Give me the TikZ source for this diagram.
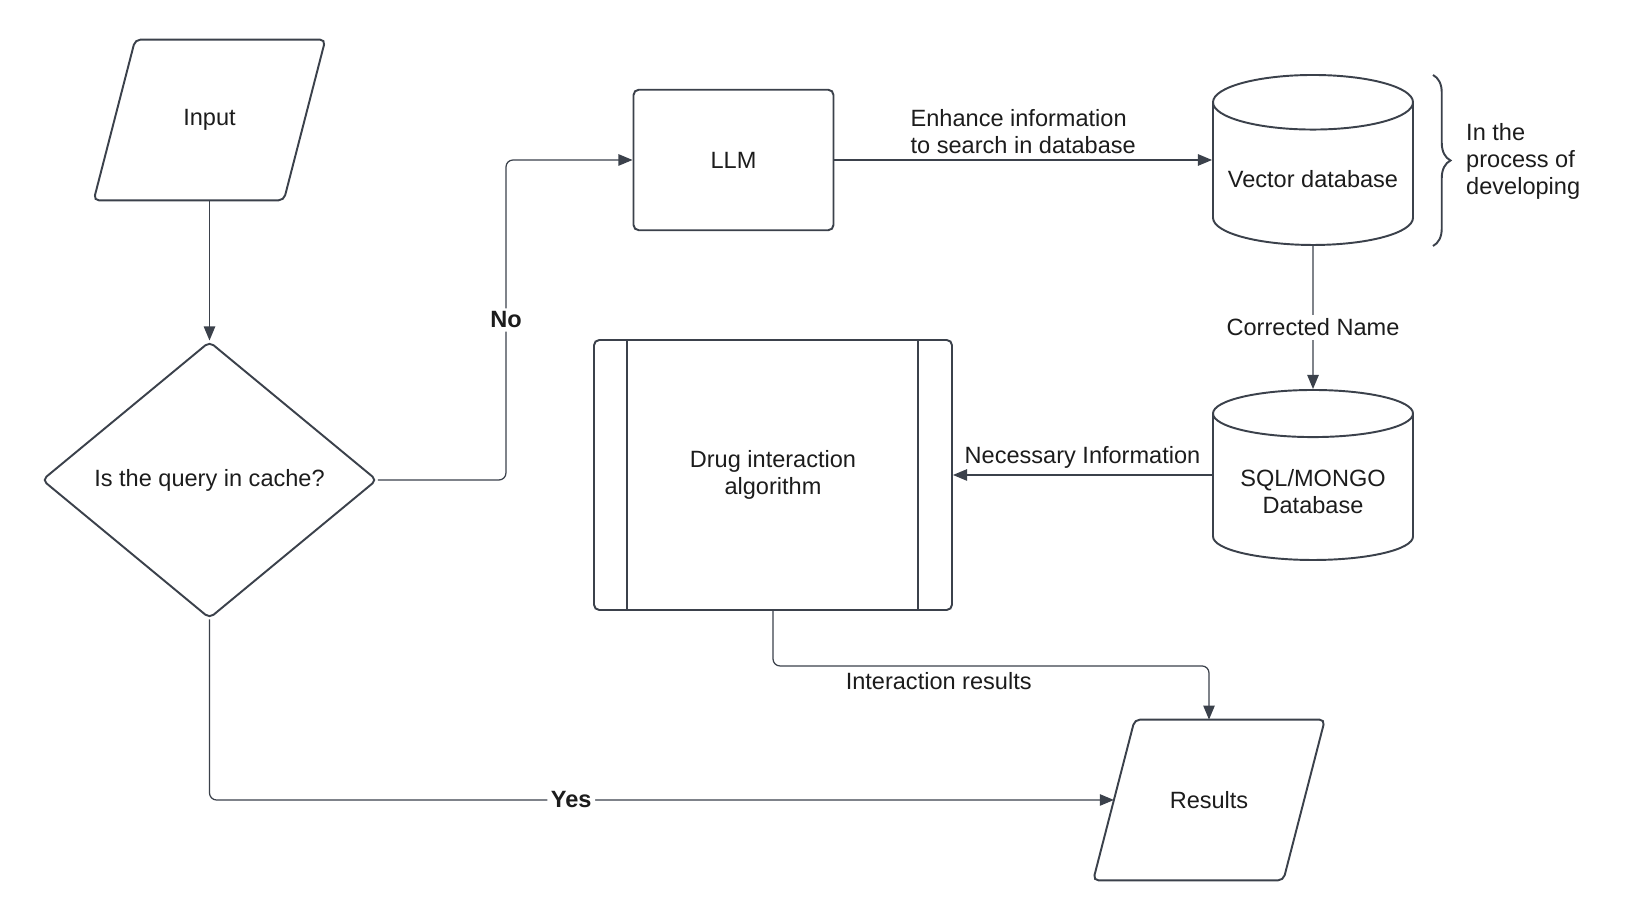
\documentclass[tikz,border=0pt]{standalone}
\usepackage{fontspec}
\setmainfont{Liberation Sans}
\usetikzlibrary{shapes.geometric,decorations.pathreplacing,arrows.meta}

\definecolor{lineclr}{HTML}{3B414B}
\definecolor{txtclr}{HTML}{1C1C1C}
\newcommand{\figfont}{\fontsize{13.4}{15.5}\selectfont}
% slanted outline round a plain io node
\newcommand{\ioshape}[1]{\draw[lineclr, line width=1.1pt, rounded corners=3pt] ([xshift=0.415cm]#1.north west) -- ([xshift=0.415cm]#1.north east) -- ([xshift=-0.415cm]#1.south east) -- ([xshift=-0.415cm]#1.south west) -- cycle;}

\tikzstyle{every node}=[text=txtclr, font=\figfont]
\tikzstyle{box}=[draw=lineclr, line width=1.1pt, rounded corners=3pt, align=center]
\tikzstyle{iobox}=[align=center, minimum width=3.79cm, minimum height=3.2cm]
\tikzstyle{dbbox}=[draw=lineclr, line width=1.1pt, cylinder, shape border rotate=90, aspect=0.3, minimum width=4cm, minimum height=3.4cm, align=center, anchor=shape center]
\tikzstyle{link}=[draw=lineclr, line width=0.7pt]
\tikzstyle{lbl}=[fill=white, inner sep=2pt]

\begin{document}
\begin{tikzpicture}[>={Triangle[length=8pt,width=6.5pt]}]
\useasboundingbox (0,0) rectangle (32.68,18.4);

\node[iobox] (inp) at (4.19,16) {Input};
\node[box, diamond, minimum width=6.7cm, minimum height=5.54cm] (dia) at (4.19,8.8) {Is the query in cache?};
\node[box, minimum width=4cm, minimum height=2.81cm] (llm) at (14.67,15.2) {LLM};
\node[dbbox] (vdb) at (26.26,15.2) {Vector database};
\node[dbbox] (sql) at (26.26,8.9) {SQL/MONGO\\Database};
\node[box, minimum width=7.16cm, minimum height=5.4cm] (alg) at (15.46,8.9) {Drug interaction\\algorithm};
\node[iobox] (res) at (24.18,2.4) {Results};

\ioshape{inp}
\ioshape{res}
\draw[lineclr, line width=1.1pt] ([xshift=0.68cm]alg.north west) -- ([xshift=0.68cm]alg.south west);
\draw[lineclr, line width=1.1pt] ([xshift=-0.7cm]alg.north east) -- ([xshift=-0.7cm]alg.south east);

\draw[link,->] (inp) -- (dia);
\draw[link,->,rounded corners=4pt] (dia.east) -- ++(2.56,0) |- (llm.west) node[lbl, pos=0.25, font=\figfont\bfseries] {No};
\draw[link,->,rounded corners=4pt] (dia.south) |- (res) node[lbl, pos=0.70, font=\figfont\bfseries] {Yes};
\draw[link,->] (llm.east) -- (llm.east -| vdb.west) node[midway, above, align=left] {Enhance information\\to search in database};
\draw[link,->] (vdb.south) -- (sql.north) node[lbl, pos=0.57] {Corrected Name};
\draw[link,->] (sql.shape center -| sql.west) -- (sql.shape center -| alg.east) node[midway, above] {Necessary Information};
\draw[link,->,rounded corners=4pt] (alg.south) -- ++(0,-1.1) -| (res) node[pos=0.19, below] {Interaction results};

\draw[lineclr, line width=1.1pt, decorate, decoration={brace, amplitude=0.35cm}] (28.66,16.9) -- (28.66,13.48);
\node[anchor=west, align=left] (devnote) at (29.2,15.17) {In the\\process of\\developing};
\end{tikzpicture}
\end{document}
